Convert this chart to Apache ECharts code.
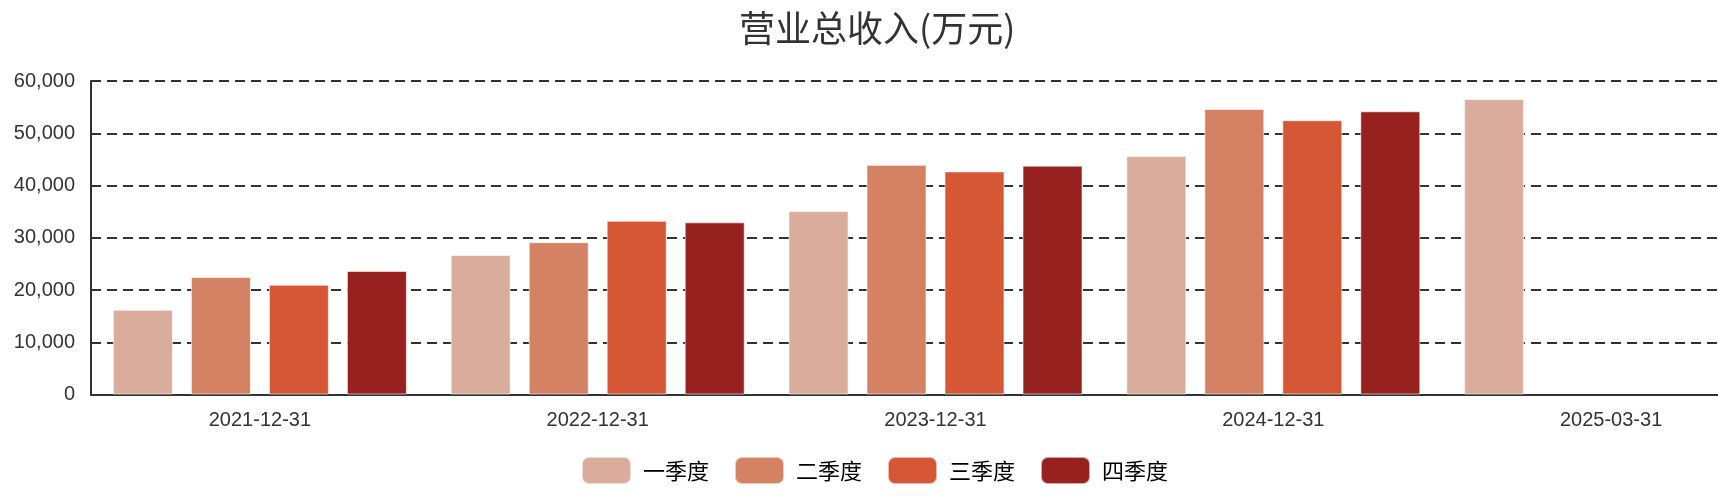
<!DOCTYPE html>
<html>
<head>
<meta charset="utf-8">
<script src="https://cdn.jsdelivr.net/npm/echarts@6/dist/echarts.min.js"></script>
<style>
  html, body { margin: 0; padding: 0; background: #fff; overflow: hidden; }
  #wrap { width: 1718px; height: 502px; overflow: hidden; }
  /* 原图右侧被裁掉一截，画布比窗口宽 */
  #chart { width: 1780px; height: 502px; }
</style>
</head>
<body>
<div id="wrap"><div id="chart"></div></div>
<script>
// 报告期
const categories = ['2021-12-31', '2022-12-31', '2023-12-31', '2024-12-31', '2025-03-31'];
// 各季度营业总收入(万元)
const q1 = [16200, 26700, 35100, 45650, 56550];
const q2 = [22500, 29150, 43950, 54650, '-'];
const q3 = [21000, 33250, 42700, 52500, '-'];
const q4 = [23650, 32950, 43800, 54200, '-'];
const seriesNames = ['一季度', '二季度', '三季度', '四季度'];
const colors = ['#daac9b', '#d48263', '#d55736', '#96211e'];

let chart = echarts.init(document.getElementById('chart'));

const latin = '"Liberation Sans", "Noto Sans CJK SC", sans-serif';
const cjk = '"Noto Sans CJK SC", "Liberation Sans", sans-serif';

let series = [q1, q2, q3, q4].map((vals, i) => ({
    name: seriesNames[i],
    type: 'bar',
    data: vals,
    barWidth: 60,
    barGap: '30%',
    itemStyle: {
        color: colors[i],
        borderColor: 'rgba(255,255,255,0.6)',
        borderWidth: 1
    }
}));

let option = {
    animation: false,
    title: {
        text: '营业总收入(万元)',
        left: 734,
        top: 5,
        textStyle: {
            fontFamily: cjk,
            fontSize: 36,
            fontWeight: 'normal',
            color: '#333'
        }
    },
    legend: {
        data: seriesNames,
        left: 576,
        top: 451,
        itemWidth: 49,
        itemHeight: 27,
        itemGap: 25,
        textStyle: {
            fontFamily: cjk,
            fontSize: 22,
            color: '#000',
            padding: [0, 0, 0, 7]
        }
    },
    grid: {
        left: 91,
        right: 0,
        top: 81,
        bottom: 107.5,
        containLabel: false
    },
    xAxis: {
        type: 'category',
        data: categories,
        axisLine: { show: true, lineStyle: { color: '#333', width: 2 } },
        axisTick: { show: false },
        axisLabel: {
            interval: 0,
            margin: 16,
            fontFamily: latin,
            fontSize: 20,
            color: '#333'
        }
    },
    yAxis: {
        type: 'value',
        min: 0,
        max: 60000,
        interval: 10000,
        axisLine: { show: true, lineStyle: { color: '#333', width: 2 } },
        axisTick: { show: false },
        axisLabel: {
            margin: 16,
            fontFamily: latin,
            fontSize: 20,
            color: '#333',
            formatter: v => v.toLocaleString('en-US')
        },
        splitLine: {
            show: true,
            lineStyle: { color: '#333', width: 2, type: [10, 6] }
        }
    },
    series: series
};

chart.setOption(option);
</script>
</body>
</html>
